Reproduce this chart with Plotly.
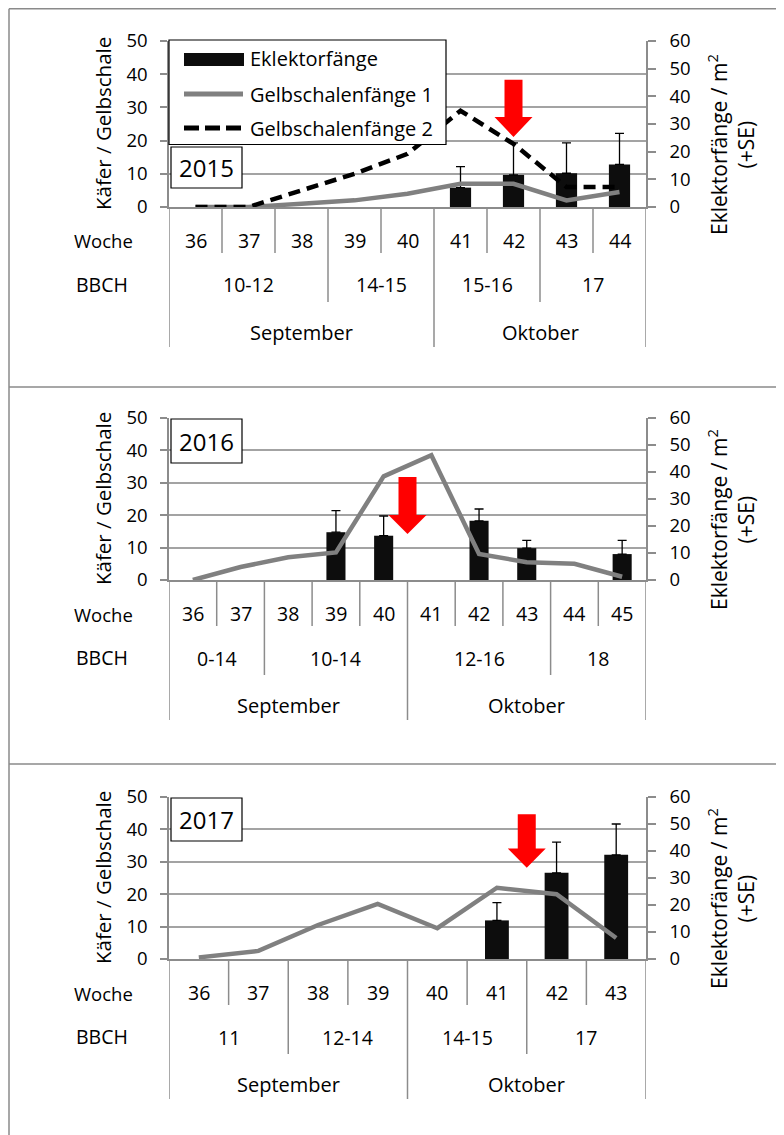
import plotly.graph_objects as go

W, H = 784, 1135
OFF = 8  # the page body margin shifts the figure by 8px
FONT = 'Open Sans'
GRID = '#a3a3a3'
AXIS = '#8c8c8c'
GREY = '#808080'
BAR = '#0d0d0d'

# ---- data ----
years = ['2015', '2016', '2017']

weeks_2015 = ['36', '37', '38', '39', '40', '41', '42', '43', '44']
gelb1_2015 = [0, 0, 1, 2, 4, 7, 7, 2, 4.5]
gelb2_2015 = [0, 0, 5, 10, 16, 29, 19, 6, 6]
ekl_2015 = [None, None, None, None, None, 7, 11.6, 12.2, 15.4]
ekl_se_2015 = [0, 0, 0, 0, 0, 7.6, 11.6, 11, 11.2]
bbch_2015 = ['10-12', '14-15', '15-16', '17']
bbch_span_2015 = [3, 2, 2, 2]
month_span_2015 = [5, 4]

weeks_2016 = ['36', '37', '38', '39', '40', '41', '42', '43', '44', '45']
gelb1_2016 = [0, 4, 7, 8.5, 32, 38.5, 8, 5.5, 5, 1]
ekl_2016 = [None, None, None, 17.7, 16.4, None, 21.9, 11.8, None, 9.6]
ekl_se_2016 = [0, 0, 0, 8, 7.3, 0, 4.4, 2.9, 0, 5.1]
bbch_2016 = ['0-14', '10-14', '12-16', '18']
bbch_span_2016 = [2, 3, 3, 2]
month_span_2016 = [5, 5]

weeks_2017 = ['36', '37', '38', '39', '40', '41', '42', '43']
gelb1_2017 = [0.5, 2.5, 10.5, 17, 9.5, 22, 20, 6.5]
ekl_2017 = [None, None, None, None, None, 14.3, 31.9, 38.6]
ekl_se_2017 = [0, 0, 0, 0, 0, 6.6, 11.4, 11.4]
bbch_2017 = ['11', '12-14', '14-15', '17']
bbch_span_2017 = [2, 2, 2, 2]
month_span_2017 = [4, 4]

months = ['September', 'Oktober']

# red arrows: category position, top / head start / tip (left axis units)
arrow_pos = [6, 4.5, 5.5]
arrow_top = [38.3, 31.8, 44.7]
arrow_head = [27.1, 20.1, 34.1]
arrow_tip = [21.1, 14.2, 28.2]

panels = [
    dict(weeks=weeks_2015, g1=gelb1_2015, g2=gelb2_2015, ekl=ekl_2015, se=ekl_se_2015,
         bbch=bbch_2015, bspan=bbch_span_2015, mspan=month_span_2015, top=41, bottom=207,
         box=(147, 188)),
    dict(weeks=weeks_2016, g1=gelb1_2016, g2=None, ekl=ekl_2016, se=ekl_se_2016,
         bbch=bbch_2016, bspan=bbch_span_2016, mspan=month_span_2016, top=418, bottom=580,
         box=(419, 463)),
    dict(weeks=weeks_2017, g1=gelb1_2017, g2=None, ekl=ekl_2017, se=ekl_se_2017,
         bbch=bbch_2017, bspan=bbch_span_2017, mspan=month_span_2017, top=797, bottom=959,
         box=(798, 841)),
]

PL, PR = 169, 646


def px(x):
    return (x - OFF) / W


def py(y):
    return 1 - (y - OFF) / H


def label(x, y, text, size=19.5, xref='paper', xanchor='center', angle=0):
    return dict(x=x, y=y, xref=xref, yref='paper', text=text, showarrow=False,
                xanchor=xanchor, yanchor='middle', textangle=angle,
                font=dict(size=size, color='black'))


fig = go.Figure()
shapes = []
annos = []

for i, p in enumerate(panels):
    xa = i + 1
    ya = 2 * i + 1   # left: Käfer / Gelbschale
    yb = 2 * i + 2   # right: Eklektorfänge
    xs = 'x' if xa == 1 else 'x%d' % xa
    ysa = 'y' if ya == 1 else 'y%d' % ya
    ysb = 'y%d' % yb
    n = len(p['weeks'])
    cat_px = (PR - PL) / n

    fig.add_trace(go.Bar(
        x=p['weeks'], y=p['ekl'], xaxis=xs, yaxis=ysb, width=0.4,
        marker=dict(color=BAR, line=dict(width=0)),
        error_y=dict(type='data', array=p['se'], arrayminus=[0] * n, symmetric=False,
                     color='black', thickness=1.3, width=4.5),
        showlegend=False))
    fig.add_trace(go.Scatter(
        x=p['weeks'], y=p['g1'], xaxis=xs, yaxis=ysa, mode='lines',
        line=dict(color=GREY, width=4.5), showlegend=False))
    if p['g2'] is not None:
        fig.add_trace(go.Scatter(
            x=p['weeks'], y=p['g2'], xaxis=xs, yaxis=ysa, mode='lines',
            line=dict(color='black', width=4.5, dash='12px,7px'), showlegend=False))

    fig.layout['xaxis' if xa == 1 else 'xaxis%d' % xa] = dict(
        type='category', categoryorder='array', categoryarray=p['weeks'],
        range=[-0.5, n - 0.5], domain=[px(PL), px(PR)], anchor=ysb, automargin=False,
        showticklabels=False, ticks='', showgrid=False, zeroline=False,
        showline=True, linecolor=AXIS, linewidth=1.5)
    fig.layout['yaxis%d' % yb] = dict(
        range=[0, 60], dtick=10, side='right', anchor=xs, automargin=False,
        domain=[py(p['bottom']), py(p['top'])],
        showgrid=False, zeroline=False, showline=True, linecolor=AXIS, linewidth=1.5,
        ticks='outside', ticklen=8, tickcolor=AXIS, tickwidth=1.5,
        tickfont=dict(size=18.5, color='black'), ticklabelstandoff=10)
    fig.layout['yaxis' if ya == 1 else 'yaxis%d' % ya] = dict(
        range=[0, 50], dtick=10, overlaying=ysb, side='left', anchor=xs, automargin=False,
        showgrid=True, gridcolor=GRID, gridwidth=1.5, zeroline=False,
        showline=True, linecolor=AXIS, linewidth=1.5,
        ticks='outside', ticklen=7, tickcolor=AXIS, tickwidth=1.5,
        tickfont=dict(size=18.5, color='black'), ticklabelstandoff=9)

    # category table below the axis
    b = p['bottom']
    bb = [0]
    for s in p['bspan']:
        bb.append(bb[-1] + s)
    mb = [0]
    for s in p['mspan']:
        mb.append(mb[-1] + s)
    for k in range(n + 1):
        if k in mb:
            depth = 140
        elif k in bb:
            depth = 95
        else:
            depth = 46
        shapes.append(dict(type='line', xref=xs, yref='paper', x0=k - 0.5, x1=k - 0.5,
                           y0=py(b), y1=py(b + depth), line=dict(color=AXIS, width=1.5)))
    for k, w in enumerate(p['weeks']):
        annos.append(label(k, py(b + 33), w, xref=xs))
    for j, lab in enumerate(p['bbch']):
        annos.append(label((bb[j] + bb[j + 1] - 1) / 2, py(b + 78), lab, xref=xs))
    for j, lab in enumerate(months):
        annos.append(label((mb[j] + mb[j + 1] - 1) / 2, py(b + 125), lab, size=20, xref=xs))
    annos.append(label(px(103), py(b + 34), 'Woche', size=18.5))
    annos.append(label(px(102), py(b + 77), 'BBCH'))

    # axis titles
    mid = (p['top'] + p['bottom']) / 2
    annos.append(label(px(103), py(mid), 'Käfer / Gelbschale', size=20.5, angle=-90))
    annos.append(label(px(731), py(mid + 21), 'Eklektorfänge / m<sup>2</sup><br>(+SE)',
                       size=21, angle=-90))

    # year box
    y0, y1 = p['box']
    shapes.append(dict(type='rect', xref='paper', yref='paper', x0=px(171), x1=px(242),
                       y0=py(y1), y1=py(y0), line=dict(color='black', width=1.2),
                       fillcolor='white', layer='above'))
    annos.append(label(px(206.5), py((y0 + y1) / 2), years[i], size=24))

    # red arrow
    c = arrow_pos[i]
    hw = 19 / cat_px
    sw = 9 / cat_px
    path = 'M %f,%f L %f,%f L %f,%f L %f,%f L %f,%f L %f,%f L %f,%f Z' % (
        c - sw, arrow_top[i], c + sw, arrow_top[i], c + sw, arrow_head[i],
        c + hw, arrow_head[i], c, arrow_tip[i], c - hw, arrow_head[i], c - sw, arrow_head[i])
    shapes.append(dict(type='path', xref=xs, yref=ysa, path=path,
                       fillcolor='#ff0000', line=dict(width=0), layer='above'))

# legend (panel 2015)
shapes.append(dict(type='rect', xref='paper', yref='paper', x0=px(169), x1=px(446),
                   y0=py(144.5), y1=py(40), line=dict(color='black', width=1.2),
                   fillcolor='white', layer='above'))
shapes.append(dict(type='rect', xref='paper', yref='paper', x0=px(184), x1=px(244),
                   y0=py(66), y1=py(53), line=dict(width=0), fillcolor=BAR, layer='above'))
shapes.append(dict(type='line', xref='paper', yref='paper', x0=px(184), x1=px(243),
                   y0=py(94), y1=py(94), line=dict(color=GREY, width=5), layer='above'))
shapes.append(dict(type='line', xref='paper', yref='paper', x0=px(184), x1=px(243),
                   y0=py(128), y1=py(128), line=dict(color='black', width=5, dash='15px,6px'),
                   layer='above'))
for t, yy in [('Eklektorfänge', 59), ('Gelbschalenfänge 1', 94), ('Gelbschalenfänge 2', 128)]:
    annos.append(label(px(248), py(yy), t, size=20, xanchor='left'))

# outer frame lines (left edge kept just inside the drawable area)
FX = 9
for yy in [8.8, 387, 764]:
    shapes.append(dict(type='line', xref='paper', yref='paper', x0=px(FX), x1=1,
                       y0=py(yy), y1=py(yy), line=dict(color='#8a8a8a', width=1.5)))
shapes.append(dict(type='line', xref='paper', yref='paper', x0=px(FX), x1=px(FX),
                   y0=py(8.8), y1=0, line=dict(color='#8a8a8a', width=1.5)))

fig.update_layout(
    width=W, height=H, margin=dict(l=0, r=0, t=0, b=0, autoexpand=False),
    paper_bgcolor='white', plot_bgcolor='white',
    font=dict(family=FONT, size=19.5, color='black'),
    bargap=0.6, shapes=shapes, annotations=annos, showlegend=False)

fig.write_html("out.html")
